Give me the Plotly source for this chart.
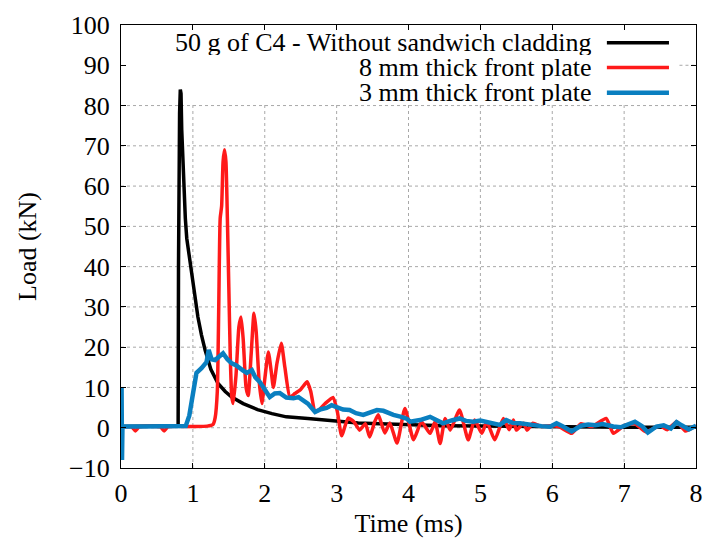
import plotly.graph_objects as go

# ---- data ----
series_names = ["50 g of C4 - Without sandwich cladding",
                "8 mm thick front plate",
                "3 mm thick front plate"]

t_black = [0, 0.78, 0.795, 0.80, 0.805, 0.815, 0.825, 0.835, 0.845, 0.86,
           0.875, 0.895, 0.915, 0.94, 0.97, 1.00, 1.04, 1.07, 1.12, 1.17,
           1.25, 1.35, 1.45, 1.54, 1.70, 1.90, 2.10, 2.30, 2.60, 3.00,
           3.30, 3.60, 4.00, 4.50, 5.00, 6.00, 7.00, 8.00]
load_black = [0.3, 0.3, 0.5, 40, 72, 78, 84, 83, 74, 66,
              60, 52, 47, 44, 40, 36, 31, 27.5, 23, 19.3,
              14.5, 11, 9, 7.6, 6, 4.5, 3.5, 2.7, 2.3, 1.7,
              1.2, 1.0, 0.7, 0.5, 0.4, 0.2, 0.1, 0.1]

t_red = [0, 0.15, 0.2, 0.25, 0.55, 0.6, 0.65, 1.0, 1.2, 1.28,
         1.31, 1.34, 1.36, 1.38, 1.40, 1.42, 1.44, 1.46, 1.48, 1.50,
         1.52, 1.54, 1.56, 1.60, 1.64, 1.67, 1.70, 1.74, 1.77, 1.81,
         1.85, 1.88, 1.92, 1.96, 2.00, 2.05, 2.09, 2.12, 2.17, 2.23,
         2.28, 2.35, 2.42, 2.50, 2.59, 2.64, 2.70, 2.76, 2.84, 2.95,
         3.01, 3.07, 3.16, 3.24, 3.32, 3.40, 3.46, 3.53, 3.58, 3.67,
         3.74, 3.84, 3.95, 4.07, 4.18, 4.30, 4.37, 4.44, 4.51, 4.58,
         4.71, 4.83, 4.92, 5.02, 5.09, 5.20, 5.32, 5.40, 5.46, 5.50,
         5.60, 5.65, 5.73, 5.85, 5.97, 6.10, 6.27, 6.40, 6.55, 6.75,
         6.85, 7.00, 7.15, 7.30, 7.50, 7.60, 7.73, 7.85, 8.00]
load_red = [0.2, 0.2, -0.8, 0.2, 0.2, -0.8, 0.2, 0.3, 0.4, 0.8,
            2.5, 9, 30, 52, 55, 66, 69, 66, 52, 35,
            18, 8, 6, 13, 25, 27.5, 22, 10, 8, 18,
            28.4, 24, 12, 6, 12, 18.8, 14, 10, 16, 21,
            15, 7.6, 8.5, 9.5, 11.4, 9, 4, 4.5, 6, 7.5,
            4, -2, 2.4, 1.5, -0.6, 1, -2.3, 1.5, 3.2, -1.3,
            1.2, -3.8, 4.8, -3, 1.5, -1.4, 1.5, -3.9, 2.3, -0.6,
            4.4, -3, 1.9, -1.4, 1.5, -3, 2.3, -0.5, 1.9, -0.6,
            1.1, -0.6, 1.1, 0.3, 0.5, 0.2, -1.4, 1, 0.3, 2.3,
            -1.4, 0.5, 1, -1, 0.5, -0.5, 1.5, -0.8, 0.5]

t_blue = [0, 0.008, 0.014, 0.02, 0.3, 0.6, 0.9, 0.95, 1.0, 1.05,
          1.12, 1.19, 1.22, 1.26, 1.31, 1.36, 1.42, 1.48, 1.54, 1.60,
          1.65, 1.70, 1.75, 1.82, 1.87, 1.93, 2.00, 2.07, 2.14, 2.21,
          2.30, 2.40, 2.47, 2.53, 2.60, 2.70, 2.78, 2.86, 2.93, 3.00,
          3.09, 3.18, 3.27, 3.37, 3.46, 3.56, 3.65, 3.72, 3.79, 3.90,
          3.98, 4.02, 4.16, 4.30, 4.40, 4.48, 4.60, 4.71, 4.80, 4.90,
          5.00, 5.09, 5.18, 5.27, 5.36, 5.45, 5.55, 5.65, 5.73, 5.85,
          5.97, 6.06, 6.15, 6.27, 6.40, 6.50, 6.60, 6.70, 6.85, 6.95,
          7.05, 7.15, 7.25, 7.33, 7.45, 7.55, 7.65, 7.73, 7.80, 7.90,
          8.00]
load_blue = [0.3, 10, -8, 0.3, 0.3, 0.3, 0.4, 3, 9, 13.6,
             14.8, 16.3, 19.3, 17, 16.8, 17.5, 18.5, 17, 16, 15.5,
             15, 14.2, 13.6, 14.3, 12.5, 11.4, 9.5, 7.6, 8.5, 8.6,
             7.5, 7.3, 7.6, 6.9, 6, 3.9, 4.6, 4.9, 5.6, 5.1,
             4.5, 4.4, 3.6, 3.2, 3.8, 4.4, 4.2, 3.6, 3.2, 2.7,
             2.2, 1.5, 1.9, 2.7, 1.8, 1.1, 1.8, 2.3, 1.7, 1.5,
             1.8, 1.5, 1.0, 0.7, 1.9, 1.2, 1.1, 0.8, 0.7, 0.4,
             0.25, 1.1, 0.3, -0.9, 0.5, 0.8, 0.6, 0.9, 0.3, 0.1,
             0.8, 1.5, 0.4, -1.2, 0.3, 0.6, -0.2, 1.4, 0.6, -0.4,
             0.5]

x_ticks = [0, 1, 2, 3, 4, 5, 6, 7, 8]
y_ticks = [-10, 0, 10, 20, 30, 40, 50, 60, 70, 80, 90, 100]

colors = ["#000000", "#ff1a1a", "#0a7fc0"]
widths = [3.5, 3.5, 4.5]
shapes_ = ["linear", "spline", "linear"]
FONT = "Liberation Serif"
FS = 26

# key box extent (data units) - grid is hidden behind it
KEY_X1 = 7.77
KEY_Y0 = 80.7

fig = go.Figure()

# dotted grid drawn manually so it can stop at the opaque key box
grid_style = dict(color="#a8a8a8", width=1, dash="dot")
for xv in x_ticks[1:-1]:
    fig.add_shape(type="line", xref="x", yref="y", x0=xv, x1=xv,
                  y0=y_ticks[0], y1=KEY_Y0, line=grid_style, layer="below")
for yv in y_ticks[1:-1]:
    x_start = KEY_X1 if yv > KEY_Y0 else x_ticks[0]
    fig.add_shape(type="line", xref="x", yref="y", x0=x_start, x1=x_ticks[-1],
                  y0=yv, y1=yv, line=grid_style, layer="below")

for t, v, c, w, s, n in zip([t_black, t_red, t_blue],
                            [load_black, load_red, load_blue],
                            colors, widths, shapes_, series_names):
    line = dict(color=c, width=w, shape=s)
    if s == "spline":
        line["smoothing"] = 0.5
    fig.add_trace(go.Scatter(x=t, y=v, mode="lines", name=n,
                             line=line, showlegend=False))

# manual key: right-aligned text followed by a line sample
key_rows_y = [0.960, 0.904, 0.847]
for n, c, w, yy in zip(series_names, colors, widths, key_rows_y):
    fig.add_annotation(xref="paper", yref="paper", x=0.822, y=yy, text=n,
                       showarrow=False, xanchor="right", yanchor="middle",
                       height=25, valign="middle",
                       font=dict(family=FONT, size=FS, color="black"))
    fig.add_shape(type="line", xref="paper", yref="paper",
                  x0=0.845, x1=0.953, y0=yy, y1=yy,
                  line=dict(color=c, width=w))

axis_common = dict(showline=True, linecolor="black", linewidth=1.2, mirror="ticks",
                   ticks="inside", ticklen=5, tickcolor="black",
                   showgrid=False, zeroline=False,
                   tickfont=dict(family=FONT, size=FS, color="black"))

fig.update_xaxes(range=[0, 8], tickvals=x_ticks, ticklabelstandoff=2,
                 title=dict(text="Time (ms)", font=dict(family=FONT, size=FS, color="black"),
                            standoff=8),
                 **axis_common)
fig.update_yaxes(range=[-10, 100], tickvals=y_ticks, ticklabelstandoff=5,
                 title=dict(text="Load (kN)", font=dict(family=FONT, size=FS, color="black"),
                            standoff=24),
                 **axis_common)

fig.update_layout(width=704, height=538,
                  margin=dict(l=121, r=8, t=25, b=70, autoexpand=False),
                  paper_bgcolor="white", plot_bgcolor="white",
                  font=dict(family=FONT, size=FS, color="black"))

fig.write_html("out.html")
